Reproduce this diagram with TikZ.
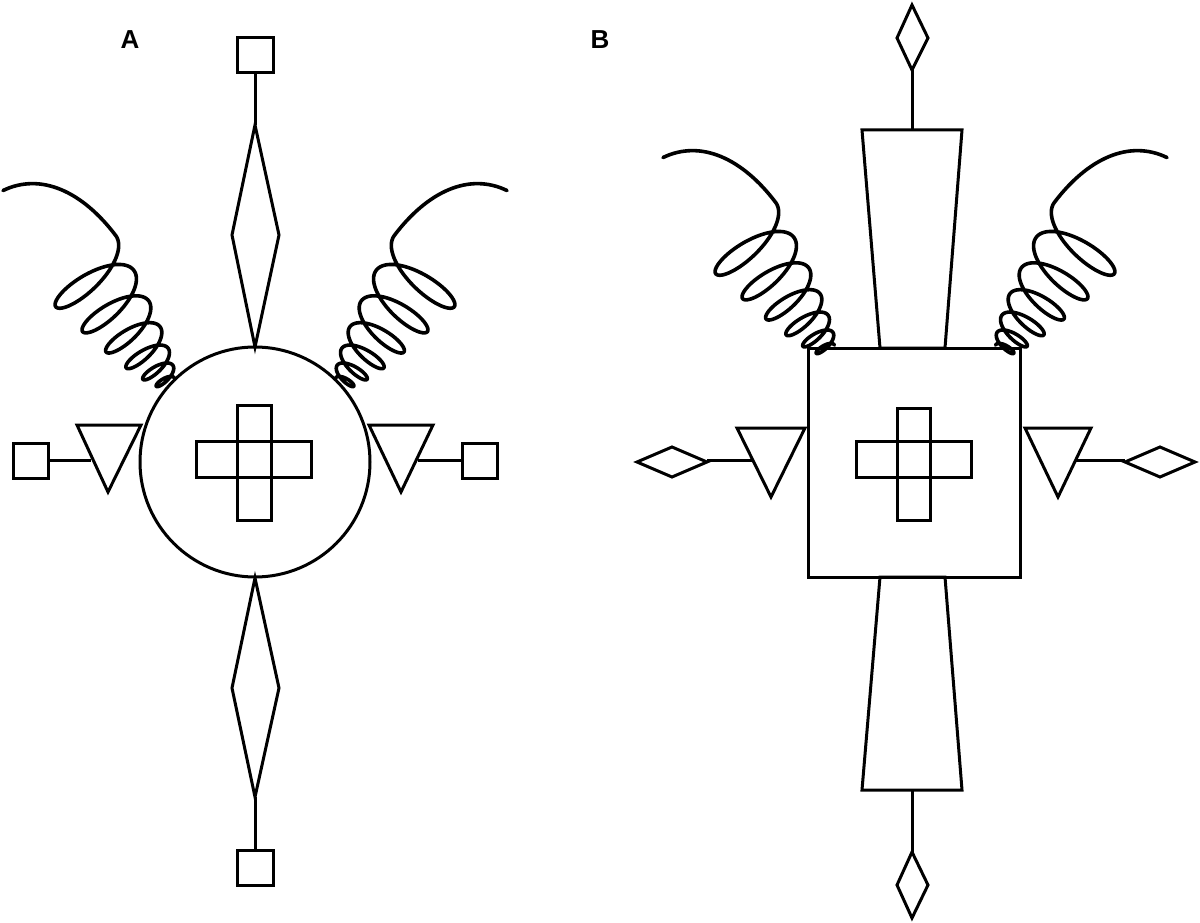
\documentclass[tikz,border=0pt]{standalone}
\usepackage{fontspec}
\setmainfont{Liberation Sans}
\tikzset{shp/.style={line width=3pt,line join=miter},coilst/.style={line width=3.6pt,line cap=round}}
\newcommand{\mycoil}{%
  \draw[coilst] plot[domain=0:6,samples=500,smooth,variable=\n]
    ({8*\n+2.8*\n*\n+0.4*(8+6.5*\n)*sin(360*\n)},{(8+6.5*\n)*cos(360*\n)})
    .. controls (205,47) and (245,25) .. (253,-16);}
\begin{document}
\begin{tikzpicture}[x=1pt,y=-1pt]
\useasboundingbox (0,0) rectangle (1200,923);
% ---------- A ----------
\node[font=\bfseries\fontsize{26}{26}\selectfont] (labA) at (130,40) {A};
\coordinate (cA) at (255,462);
\draw[shp] (cA) circle (115);
\draw[shp] (237,405) rectangle (271,520);
\draw[shp] (196,441) rectangle (311,477);
% top
\draw[shp] (255,125) -- (279,235) -- (255,347) -- (232,235) -- cycle;
\draw[shp] (255,73) -- (255,125);
\draw[shp] (237,38) rectangle (273,73);
% bottom
\draw[shp] (255,578) -- (279,688) -- (255,797) -- (232,688) -- cycle;
\draw[shp] (255,797) -- (255,850);
\draw[shp] (237,850) rectangle (273,885);
% left
\draw[shp] (77,425) -- (141,425) -- (108,492) -- cycle;
\draw[shp] (48,460) -- (91,460);
\draw[shp] (13,443) rectangle (48,478);
% right
\draw[shp] (369,425) -- (433,425) -- (401,492) -- cycle;
\draw[shp] (418,460) -- (462,460);
\draw[shp] (462,443) rectangle (497,478);
% coils
\begin{scope}[shift={(168,383)},rotate=127]\mycoil\end{scope}
\begin{scope}[shift={(342,383)},xscale=-1,rotate=127]\mycoil\end{scope}
% ---------- B ----------
\node[font=\bfseries\fontsize{26}{26}\selectfont] (labB) at (600,40) {B};
\draw[shp] (808,348) rectangle (1020,577);
\draw[shp] (897,408) rectangle (930,520);
\draw[shp] (856,441) rectangle (971,477);
% top
\draw[shp] (862,130) -- (962,130) -- (945,348) -- (880,348) -- cycle;
\draw[shp] (912,70) -- (912,130);
\draw[shp] (912,5) -- (928,38) -- (912,70) -- (897,38) -- cycle;
% bottom
\draw[shp] (880,577) -- (945,577) -- (962,790) -- (862,790) -- cycle;
\draw[shp] (912,790) -- (912,852);
\draw[shp] (912,852) -- (928,885) -- (912,918) -- (897,885) -- cycle;
% left
\draw[shp] (737,428) -- (805,428) -- (771,497) -- cycle;
\draw[shp] (707,460) -- (752,460);
\draw[shp] (637,462) -- (672,447) -- (707,462) -- (672,477) -- cycle;
% right
\draw[shp] (1025,428) -- (1091,428) -- (1058,497) -- cycle;
\draw[shp] (1075,460) -- (1125,460);
\draw[shp] (1125,462) -- (1160,447) -- (1195,462) -- (1160,477) -- cycle;
% coils
\begin{scope}[shift={(828,350)},rotate=127]\mycoil\end{scope}
\begin{scope}[shift={(1002,350)},xscale=-1,rotate=127]\mycoil\end{scope}
\end{tikzpicture}
\end{document}
